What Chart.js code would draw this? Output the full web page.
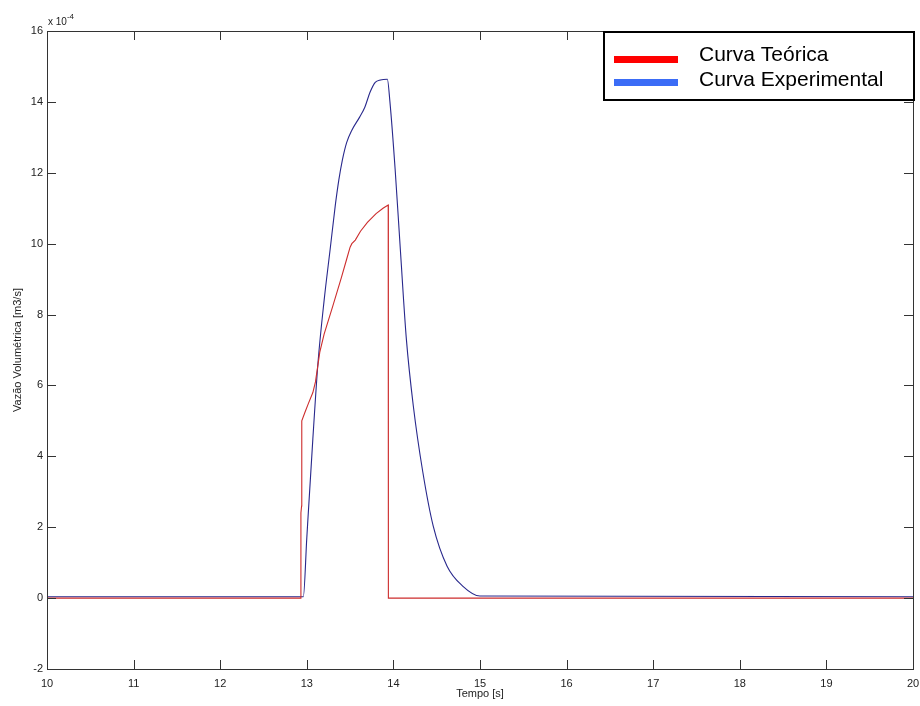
<!DOCTYPE html>
<html>
<head>
<meta charset="utf-8">
<script src="https://cdn.jsdelivr.net/npm/chart.js@4/dist/chart.umd.min.js"></script>
<style>
html,body{margin:0;padding:0;background:#fff;}
canvas{display:block;}
</style>
</head>
<body>
<canvas id="c" width="920" height="706"></canvas>
<script>
// ---- data (values in units of 1e-4 m3/s) ----
const seriesNames = ["Curva Teórica", "Curva Experimental"];
const tTeorica = [10, 12.93, 12.932, 12.940, 12.942, 12.98, 13.02, 13.07, 13.10, 13.15, 13.20, 13.30, 13.40, 13.46, 13.50, 13.52, 13.56, 13.62, 13.70, 13.80, 13.88, 13.94, 13.942, 20];
const vTeorica = [0, 0, 2.4, 2.6, 5.0, 5.25, 5.5, 5.8, 6.1, 6.94, 7.45, 8.24, 9.05, 9.56, 9.9, 10.0, 10.1, 10.35, 10.6, 10.85, 11.0, 11.09, 0, 0];
const tExperimental = [10, 12.96, 13.00, 13.07, 13.13, 13.20, 13.27, 13.33, 13.37, 13.41, 13.46, 13.52, 13.61, 13.67, 13.73, 13.79, 13.85, 13.93, 13.96, 14.02, 14.08, 14.15, 14.23, 14.34, 14.46, 14.62, 14.80, 15.00, 20];
const vExperimental = [0.04, 0.04, 1.7, 4.5, 6.66, 8.4, 9.85, 11.1, 11.8, 12.35, 12.85, 13.2, 13.57, 13.85, 14.27, 14.55, 14.62, 14.64, 14.0, 12.1, 9.84, 7.3, 5.42, 3.55, 2.03, 0.9, 0.34, 0.06, 0.04];
const xTicks = [10, 11, 12, 13, 14, 15, 16, 17, 18, 19, 20];
const yTicks = [-2, 0, 2, 4, 6, 8, 10, 12, 14, 16];
const xTitle = "Tempo [s]";
const yTitle = "Vazão Volumétrica [m3/s]";
const yMultiplier = ["x 10", "-4"];

// ---- styles ----
const FONT = '"Liberation Sans", Arial, sans-serif';
const lineColors = ["rgb(205,45,45)", "rgb(40,40,140)"];
const legendColors = ["#ff0000", "#3b6cf6"];

const toPts = (ts, vs) => ts.map((t, i) => ({x: t, y: vs[i]}));

const framePlugin = {
  id: 'frame',
  afterDraw(chart) {
    const {ctx, chartArea: a, scales} = chart;
    ctx.save();
    ctx.strokeStyle = '#333';
    ctx.lineWidth = 1;
    ctx.strokeRect(Math.round(a.left) + 0.5, Math.round(a.top) + 0.5, Math.round(a.right - a.left), Math.round(a.bottom - a.top));
    const L = 9;
    ctx.beginPath();
    xTicks.forEach(v => {
      const px = Math.round(scales.x.getPixelForValue(v)) + 0.5;
      ctx.moveTo(px, a.bottom); ctx.lineTo(px, a.bottom - L);
      ctx.moveTo(px, a.top); ctx.lineTo(px, a.top + L);
    });
    yTicks.forEach(v => {
      const py = Math.round(scales.y.getPixelForValue(v)) + 0.5;
      ctx.moveTo(a.left, py); ctx.lineTo(a.left + L, py);
      ctx.moveTo(a.right, py); ctx.lineTo(a.right - L, py);
    });
    ctx.stroke();

    // exponent label
    ctx.fillStyle = '#222';
    ctx.font = '10px ' + FONT;
    ctx.textBaseline = 'alphabetic';
    ctx.textAlign = 'left';
    ctx.fillText(yMultiplier[0], a.left + 1, a.top - 6);
    const w = ctx.measureText(yMultiplier[0]).width;
    ctx.font = '8px ' + FONT;
    ctx.fillText(yMultiplier[1], a.left + 1 + w, a.top - 12);

    // legend box
    const bx = 603, by = 31, bw = 312, bh = 70;
    ctx.fillStyle = '#fff';
    ctx.fillRect(bx, by, bw, bh);
    ctx.lineWidth = 2;
    ctx.strokeStyle = '#000';
    ctx.strokeRect(bx + 1, by + 1, bw - 2, bh - 2);
    ctx.font = '21px ' + FONT;
    ctx.textBaseline = 'middle';
    const swatchY = [56, 79];
    const textY = [55, 80];
    chart.data.datasets.forEach((ds, i) => {
      ctx.fillStyle = legendColors[i];
      ctx.fillRect(614, swatchY[i], 64, 7);
      ctx.fillStyle = '#000';
      ctx.fillText(ds.label, 699, textY[i]);
    });
    ctx.restore();
  }
};

new Chart(document.getElementById('c'), {
  type: 'line',
  data: {
    datasets: [
      {label: seriesNames[0], data: toPts(tTeorica, vTeorica), borderColor: lineColors[0], borderWidth: 1.1, pointRadius: 0, tension: 0, fill: false},
      {label: seriesNames[1], data: toPts(tExperimental, vExperimental), borderColor: lineColors[1], borderWidth: 1.1, pointRadius: 0, cubicInterpolationMode: 'monotone', fill: false}
    ]
  },
  options: {
    responsive: false,
    animation: false,
    devicePixelRatio: 1,
    layout: {padding: {top: 31, right: 0, left: 0, bottom: 0}},
    plugins: {legend: {display: false}, tooltip: {enabled: false}},
    scales: {
      x: {
        type: 'linear', min: 10, max: 20,
        afterBuildTicks: s => { s.ticks = xTicks.map(v => ({value: v})); },
        afterFit: s => { s.height = 37; s.paddingRight = 7; s.paddingLeft = 0; },
        grid: {display: false, drawTicks: false},
        border: {display: false},
        ticks: {color: '#222', font: {family: FONT, size: 11}, padding: 8, maxRotation: 0, autoSkip: false},
        title: {display: true, text: xTitle, color: '#222', font: {family: FONT, size: 11}, padding: {top: 0, bottom: 5}}
      },
      y: {
        type: 'linear', min: -2, max: 16,
        afterBuildTicks: s => { s.ticks = yTicks.map(v => ({value: v})); },
        afterFit: s => { s.width = 47; s.paddingTop = 0; s.paddingBottom = 0; },
        grid: {display: false, drawTicks: false},
        border: {display: false},
        ticks: {color: '#222', font: {family: FONT, size: 11}, padding: 4, autoSkip: false},
        title: {display: true, text: yTitle, color: '#222', font: {family: FONT, size: 11}, padding: {top: 11, bottom: 0}}
      }
    }
  },
  plugins: [framePlugin]
});
</script>
</body>
</html>
